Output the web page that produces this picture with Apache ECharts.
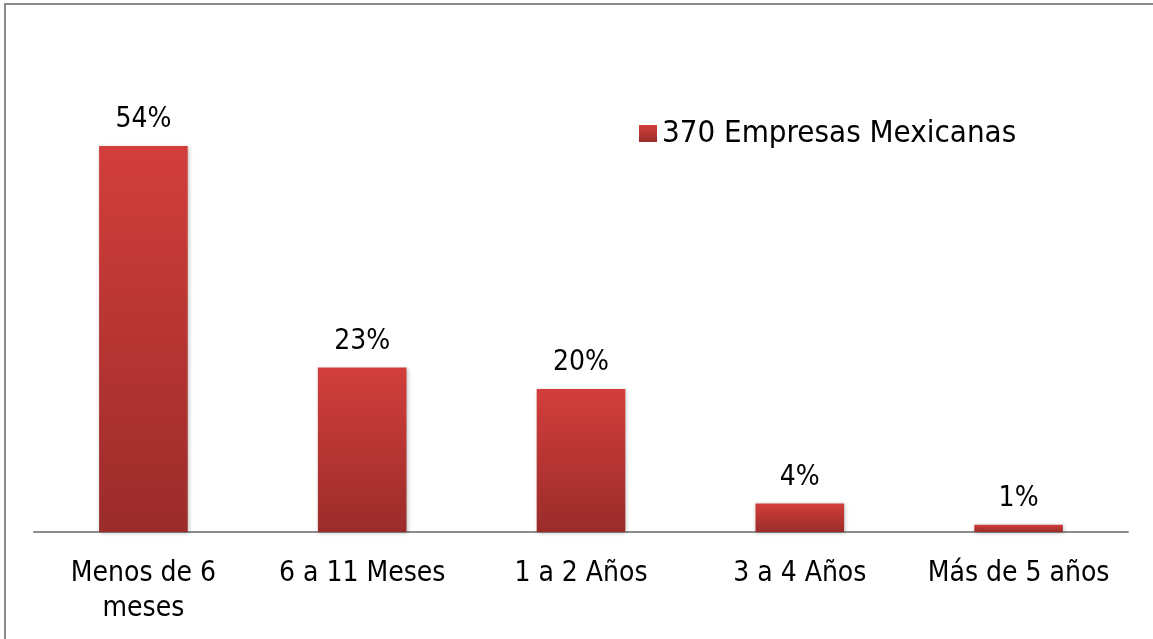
<!DOCTYPE html>
<html>
<head>
<meta charset="utf-8">
<script src="https://cdn.jsdelivr.net/npm/echarts@6/dist/echarts.min.js"></script>
<style>
  html, body { margin: 0; padding: 0; background: #fff; }
  #chart { width: 1153px; height: 639px; }
</style>
</head>
<body>
<div id="chart"></div>
<script>
// Tiempo de recuperación de la inversión
const categories = ['Menos de 6\nmeses', '6 a 11 Meses', '1 a 2 Años', '3 a 4 Años', 'Más de 5 años'];
const seriesName = '370 Empresas Mexicanas';
const values = [54, 23, 20, 4, 1];

const FONT = '"DejaVu Sans Condensed", "DejaVu Sans", sans-serif';
const barGradient = new echarts.graphic.LinearGradient(0, 0, 0, 1, [
  { offset: 0, color: '#d23e3b' },
  { offset: 1, color: '#9b2c2a' }
]);

const chart = echarts.init(document.getElementById('chart'), null, { renderer: 'canvas' });
chart.setOption({
  animation: false,
  backgroundColor: '#ffffff',
  textStyle: { fontFamily: FONT },
  graphic: [{
    type: 'rect',
    shape: { x: 5, y: 4, width: 1300, height: 800 },
    style: { fill: 'none', stroke: '#8c8c8c', lineWidth: 2 },
    silent: true,
    z: 0
  }],
  legend: {
    data: [{ name: seriesName, icon: 'rect' }],
    left: 634,
    top: 113,
    itemWidth: 18,
    itemHeight: 17,
    textStyle: { fontFamily: FONT, fontSize: 31, color: '#000' }
  },
  grid: { left: 34, right: 25, top: 103, bottom: 107, containLabel: false },
  xAxis: {
    type: 'category',
    data: categories,
    axisLine: { lineStyle: { color: '#8c8c8c', width: 2 } },
    axisTick: { show: false },
    axisLabel: {
      interval: 0,
      fontFamily: FONT,
      fontSize: 28,
      color: '#000',
      margin: 24,
      lineHeight: 35
    }
  },
  yAxis: {
    type: 'value',
    min: 0,
    max: 60,
    show: false,
    splitLine: { show: false }
  },
  series: [{
    name: seriesName,
    type: 'bar',
    data: values,
    barWidth: '40.5%',
    itemStyle: {
      color: barGradient,
      shadowColor: 'rgba(0,0,0,0.25)',
      shadowBlur: 4,
      shadowOffsetX: 1,
      shadowOffsetY: 1
    },
    label: {
      show: true,
      position: 'top',
      distance: 12,
      formatter: p => p.value + '%',
      fontFamily: FONT,
      fontSize: 28,
      color: '#000'
    }
  }]
});
</script>
</body>
</html>
